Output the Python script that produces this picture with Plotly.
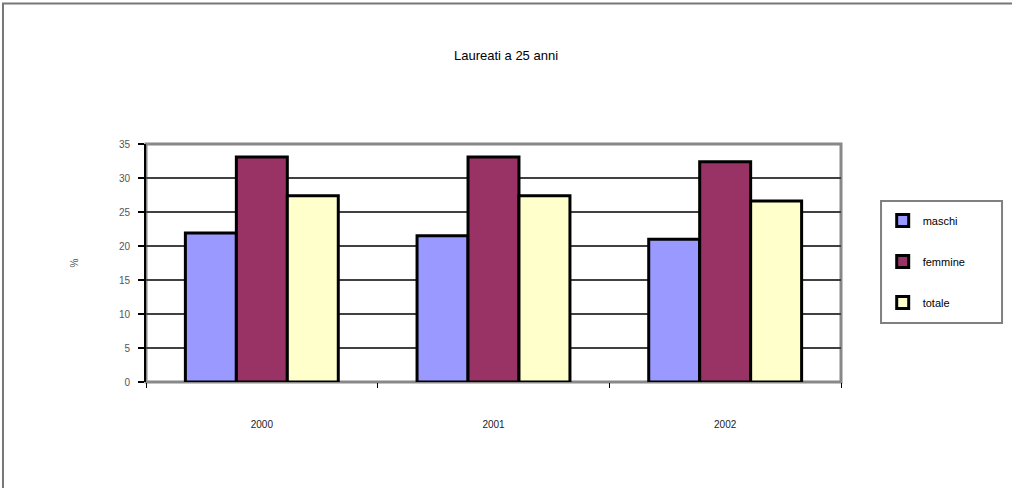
import plotly.graph_objects as go

years = ["2000", "2001", "2002"]
maschi = [21.9, 21.5, 21.0]
femmine = [33.1, 33.1, 32.4]
totale = [27.4, 27.4, 26.6]
series_names = ["maschi", "femmine", "totale"]
series_colors = ["#9999FF", "#993366", "#FFFFCC"]
y_ticks = [0, 5, 10, 15, 20, 25, 30, 35]

fig = go.Figure()
for i, (name, vals, col) in enumerate(zip(series_names, [maschi, femmine, totale], series_colors)):
    fig.add_trace(go.Bar(
        x=years, y=vals, name=name,
        marker=dict(color=col, line=dict(color="black", width=3)),
        legendgroup=name,
    ))

fig.update_layout(
    width=1012, height=488,
    margin=dict(l=146, r=171, t=144, b=106),
    paper_bgcolor="white", plot_bgcolor="white",
    barmode="group", bargap=0.34, bargroupgap=0,
    font=dict(family="Liberation Sans, Arial, sans-serif", size=10, color="#333333"),
    title=dict(text="Laureati a 25 anni", x=0.5, xanchor="center", y=0.887, yanchor="middle",
               font=dict(size=13, color="black")),
    showlegend=True,
    legend=dict(x=1.06, xanchor="left", y=0.74, yanchor="top",
                borderwidth=0, bgcolor="rgba(0,0,0,0)",
                font=dict(size=11, color="black"), tracegroupgap=22,
                itemwidth=30),
    xaxis=dict(tickson="boundaries", ticks="outside", ticklen=5, tickcolor="black",
               showline=False, showgrid=False, tickfont=dict(size=10, color="#222222"),
               ticklabelstandoff=35),
    yaxis=dict(range=[0, 35], tickvals=y_ticks, ticks="outside", ticklen=6,
               tickcolor="black", tickwidth=2, showgrid=True, gridcolor="#404040", gridwidth=2,
               showline=True, linecolor="black", linewidth=2, zeroline=False,
               tickfont=dict(size=10, color="#555555"), ticklabelstandoff=6,
               title=dict(text="%", font=dict(size=10, color="#555555"), standoff=38)),
)

# plot area border (grey)
fig.add_shape(type="rect", xref="paper", yref="paper", x0=0, x1=1, y0=0, y1=1,
              line=dict(color="#888888", width=3), layer="below")
# legend box
fig.add_shape(type="rect", xref="paper", yref="paper", x0=1.0576, x1=1.2317, y0=0.248, y1=0.7605,
              line=dict(color="#808080", width=2))
# outer chart frame
fig.add_shape(type="rect", xref="paper", yref="paper", x0=-0.2058, x1=1.3, y0=-0.53, y1=1.59,
              line=dict(color="#777777", width=2))

fig.write_html("out.html", config={"displayModeBar": False},
               post_script="document.body.style.margin='0';")
